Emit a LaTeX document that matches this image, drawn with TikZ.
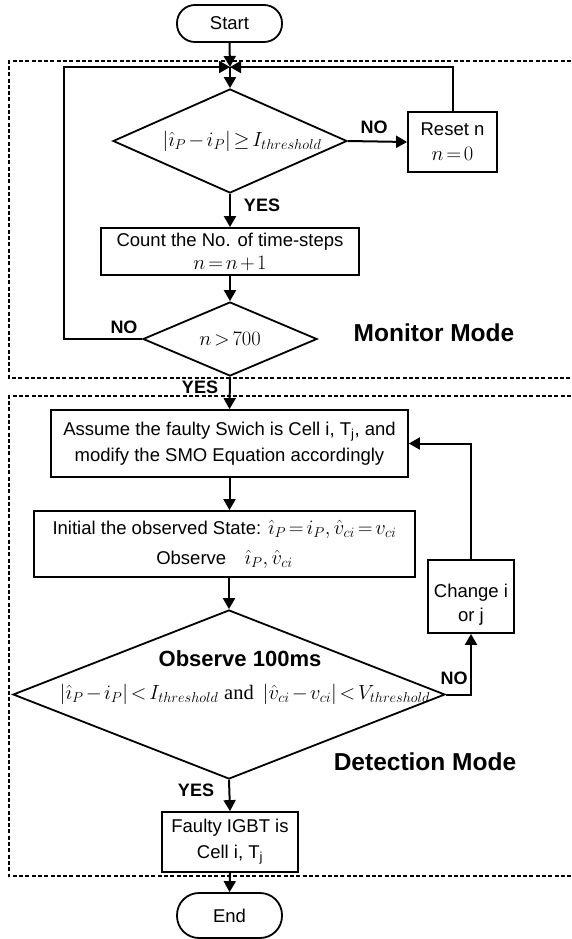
\RequirePackage{fix-cm}
\documentclass[tikz,border=0pt]{standalone}
\usepackage{fontspec}
\setmainfont{Liberation Sans}
\setmathrm{Liberation Serif}
\usetikzlibrary{arrows.meta,shapes.geometric}
\newcommand\mth[1]{{\fontsize{20.5}{24}\selectfont\medmuskip=2mu\thickmuskip=2.5mu$#1$}}
\begin{document}
\begin{tikzpicture}[x=1pt,y=-1pt,
  box/.style={draw,line width=1.8pt,align=center,inner sep=0pt,font=\fontsize{18.5}{22}\selectfont},
  dia/.style={draw,diamond,line width=1.8pt,inner sep=0pt},
  flow/.style={line width=2pt,-{Triangle[length=11pt,width=12pt]}},
  lbl/.style={font=\bfseries\fontsize{18}{20}\selectfont,inner sep=0pt},
  mode/.style={font=\bfseries\fontsize{24.5}{28}\selectfont,inner sep=0pt},
  zone/.style={line width=1.4pt,dash pattern=on 4pt off 2.3pt},
  txt/.style={inner sep=0pt,align=center,font=\fontsize{18.5}{22}\selectfont}]
\useasboundingbox (0,0) rectangle (571,939);

% zones
\draw[zone] (571,61) -- (9,61) -- (9,378) -- (571,378);
\draw[zone] (571,396) -- (9,396) -- (9,876) -- (571,876);

% nodes
\node[box,rounded corners=18pt,minimum width=105pt,minimum height=37pt] (start) at (229.5,23.5) {Start};
\coordinate (M) at (230,67);
\node[dia,minimum width=234pt,minimum height=104pt] (d1) at (230,141) {};
\node[txt] (d1t) at (242,141) {\mth{\left|\hat{\imath}_P - i_P\right| \geq I_{threshold}}};
\node[box,minimum width=89pt,minimum height=60pt] (reset) at (452.5,142) {Reset n\\[3pt]\mth{n=0}};
\node[box,minimum width=258pt,minimum height=47pt] (count) at (230,251.5) {Count the No. of time-steps\\[1pt]\mth{n=n+1}};
\node[dia,minimum width=174pt,minimum height=74pt] (d2) at (230,339) {};
\node[txt] (d2t) at (230,339) {\mth{n>700}};
\node[box,minimum width=357pt,minimum height=67pt] (assume) at (229.5,443.5) {Assume the faulty Swich is Cell i, T\textsubscript{j}, and\\[4pt]modify the SMO Equation accordingly};
\node[box,minimum width=381pt,minimum height=66pt] (init) at (224.5,544) {Initial the observed State: \mth{\hat{\imath}_P = i_P, \hat{v}_{ci} = v_{ci}}\\[8pt]Observe\quad \mth{\hat{\imath}_P, \hat{v}_{ci}}};
\node[dia,minimum width=432pt,minimum height=169pt] (d3) at (229,694.5) {};
\node[font=\bfseries\fontsize{22}{24}\selectfont,inner sep=0pt] (d3a) at (240,659) {Observe 100ms};
\node[txt] (d3b) at (245,694) {\mth{\left|\hat{\imath}_P - i_P\right| < I_{threshold}\ \mathrm{and}\ \left|\hat{v}_{ci} - v_{ci}\right| < V_{threshold}}};
\node[box,minimum width=86pt,minimum height=73pt] (change) at (471,596.5) {};
\node[txt] (chgt) at (471,605) {Change i\\[2pt]or j};
\node[box,minimum width=136pt,minimum height=60pt] (faulty) at (230,842) {Faulty IGBT is\\[4pt]Cell i, T\textsubscript{j}};
\node[box,rounded corners=22pt,minimum width=105pt,minimum height=45pt] (end) at (229.5,915.5) {End};

% connectors
\draw[flow] (start.south) -- (M);
\draw[flow] (d2.west) -- (64,339) -- (64,67) -- (M);
\draw[flow] (reset.north) -- (reset.north |- M) -- (M);
\draw[flow] (M) -- (d1.north);
\draw[flow] (d1.east) -- (reset.west);
\draw[flow] (d1.south) -- (count.north);
\draw[flow] (count.south) -- (d2.north);
\draw[flow] (d2.south) -- (assume.north);
\draw[flow] (assume.south) -- (assume.south |- init.north);
\draw[flow] (d3.north |- init.south) -- (d3.north);
\draw[flow] (d3.east) -- (d3.east -| change.south) -- (change.south);
\draw[flow] (change.north) -- (change.north |- assume.east) -- (assume.east);
\draw[flow] (d3.south) -- (faulty.north);
\draw[flow] (faulty.south) -- (end.north);

% labels
\node[lbl] (no1) at (374,127) {NO};
\node[lbl] (yes1) at (262,205) {YES};
\node[lbl] (no2) at (124,327) {NO};
\node[lbl] (yes2) at (200,387) {YES};
\node[lbl] (no3) at (454,678) {NO};
\node[lbl] (yes3) at (196,790) {YES};
\node[mode] (mon) at (434,333) {Monitor Mode};
\node[mode] (det) at (425,762) {Detection Mode};
\end{tikzpicture}
\end{document}
